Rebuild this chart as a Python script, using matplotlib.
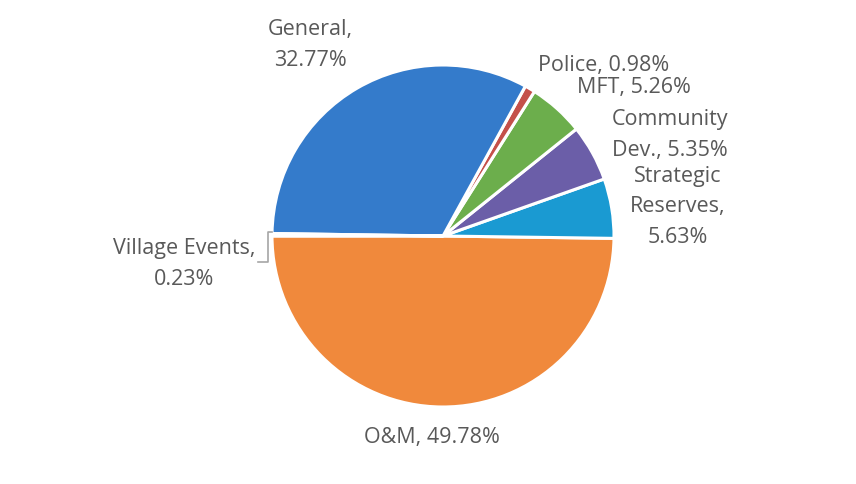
import matplotlib
matplotlib.use("Agg")
import matplotlib.pyplot as plt

# slice data, counter-clockwise from 9 o'clock
categories = ["O&M", "Strategic\nReserves", "Community\nDev.", "MFT", "Police", "General", "Village Events"]
shares = [49.78, 5.63, 5.35, 5.26, 0.98, 32.77, 0.23]
colors = ["#F0893C", "#1A9AD2", "#6B5EA8", "#6CAE4C", "#C4504A", "#347BCB", "#8DA3C8"]

# label text as shown in the chart
label_texts = ["O&M, 49.78%", "Strategic\nReserves,\n5.63%", "Community\nDev., 5.35%",
               "MFT, 5.26%", "Police, 0.98%", "General,\n32.77%", "Village Events,\n0.23%"]
# label centres in pie units (radius = 1)
label_pos = [(-0.064, -1.181), (1.374, 0.170), (1.327, 0.591),
             (1.117, 0.871), (0.942, 1.000), (-0.778, 1.117), (-1.515, -0.164)]

plt.rcParams['font.family'] = ['Open Sans', 'DejaVu Sans']

fig = plt.figure(figsize=(8.56, 4.84), dpi=100)
ax = fig.add_axes([0, 0, 1, 1])

ax.pie(shares, colors=colors, startangle=180, counterclock=True,
       wedgeprops=dict(edgecolor='white', linewidth=2.2))

for txt, (x, y) in zip(label_texts, label_pos):
    ax.text(x, y, txt, ha='center', va='center', fontsize=15.5, color='#595959',
            linespacing=1.6)

# leader line for the tiny Village Events slice
ax.plot([-1.082, -1.023, -1.023, -1.0], [-0.152, -0.152, 0.023, 0.023],
        color='#A6A6A6', linewidth=1.2)

s = 171.0
ax.set_xlim(-443 / s, (856 - 443) / s)
ax.set_ylim(-(484 - 236) / s, 236 / s)
ax.set_aspect('equal')
ax.axis('off')

plt.savefig('out.png', dpi=100)
